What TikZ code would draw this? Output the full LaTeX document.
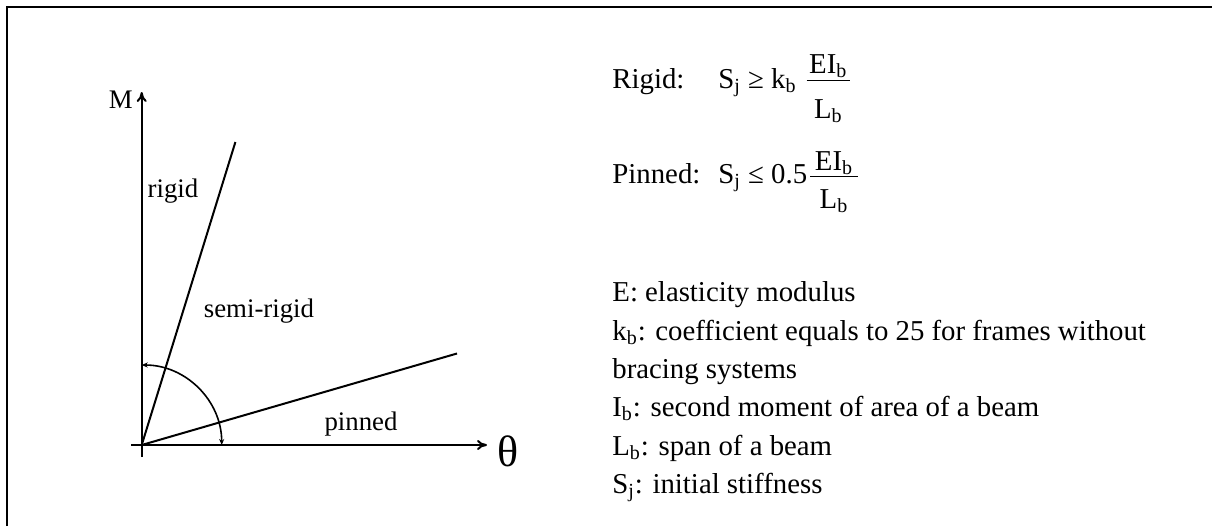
\documentclass[tikz,border=0pt]{standalone}
\usepackage{fontspec}
\setmainfont{Liberation Serif}
\usetikzlibrary{arrows.meta}

\begin{document}
\begin{tikzpicture}[x=0.5pt,y=-0.5pt,
        axis/.style={line width=1pt,-{To[length=5pt,width=5pt]}},
        curve/.style={line width=1pt},
        lbl/.style={font=\fontsize{13.4}{15}\selectfont,anchor=base,inner sep=0pt},
        txt/.style={font=\fontsize{14.4}{17}\selectfont,anchor=base west,inner sep=0pt},
        frc/.style={font=\fontsize{14.4}{17}\selectfont,anchor=base,inner sep=0pt}]
        \useasboundingbox (0,0) rectangle (1212,526);
        % frame, only top and left edges show
        \draw[line width=1.3pt] (7,526) -- (7,7) -- (1212,7);
        % axes
        \coordinate (O) at (141.7,445);
        \coordinate (Mtop) at (141.7,92);
        \coordinate (Mbot) at (141.7,457);
        \coordinate (Tleft) at (131,445);
        \coordinate (Tright) at (487,445);
        \draw[axis] (Mbot) -- (Mtop);
        \draw[axis] (Tleft) -- (Tright);
        \node[lbl,anchor=base east] (M) at (133,108) {M};
        \node[lbl,font=\fontsize{22}{24}\selectfont] (theta) at (508,466) {θ};
        % rigid and pinned lines
        \coordinate (R) at (235.4,142);
        \coordinate (P) at (457,353.5);
        \draw[curve] (O) -- (R);
        \draw[curve] (O) -- (P);
        \draw[line width=0.8pt,{Stealth[length=3pt,width=2.5pt]}-{Stealth[length=3pt,width=2.5pt]}]
            (221.7,445) arc[start angle=0,end angle=-90,radius=80];
        \node[lbl] (rigid) at (173,197) {rigid};
        \node[lbl] (semi) at (259,317) {semi-rigid};
        \node[lbl] (pinned) at (361,430) {pinned};
        % criteria
        \node[txt] (rg) at (612,88.3) {Rigid:};
        \node[txt] (rgS) at (718,88.3) {S\textsubscript{j} ≥ k\textsubscript{b}};
        \draw[line width=0.7pt] (806.7,80.7) -- (850,80.7);
        \node[frc] (rgN) at (828.3,73.3) {EI\textsubscript{b}};
        \node[frc] (rgD) at (828.3,118) {L\textsubscript{b}};
        \node[txt] (pn) at (612,183.3) {Pinned:};
        \node[txt] (pnS) at (718,183.3) {S\textsubscript{j} ≤ 0.5};
        \draw[line width=0.7pt] (810,176.7) -- (858,176.7);
        \node[frc] (pnN) at (834,170) {EI\textsubscript{b}};
        \node[frc] (pnD) at (834,208) {L\textsubscript{b}};
        % notation
        \node[txt] (n1) at (612,301) {E: elasticity modulus};
        \node[txt] (n2) at (612,340) {k\textsubscript{b}: coefficient equals to 25 for frames without};
        \node[txt] (n3) at (612,378) {bracing systems};
        \node[txt] (n4) at (612,416) {I\textsubscript{b}: second moment of area of a beam};
        \node[txt] (n5) at (612,455) {L\textsubscript{b}: span of a beam};
        \node[txt] (n6) at (612,493) {S\textsubscript{j}: initial stiffness};
\end{tikzpicture}
\end{document}
